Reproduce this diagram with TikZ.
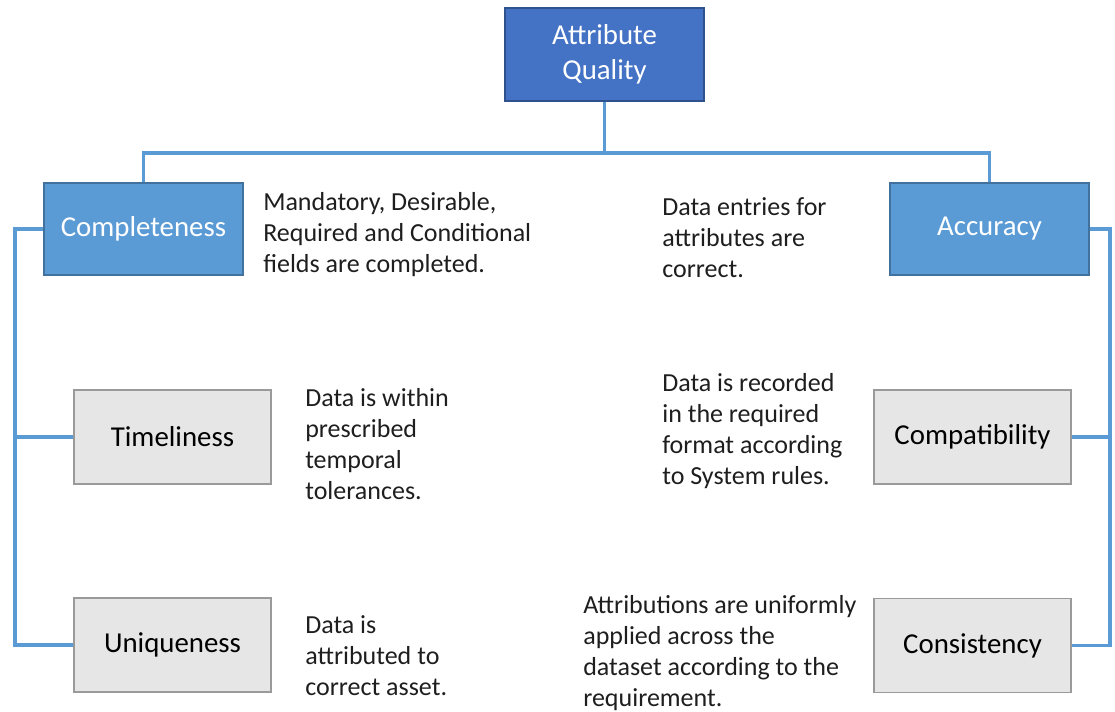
\documentclass[tikz,border=0pt]{standalone}
\usepackage{fontspec}
\setmainfont{Carlito}
\usepackage{xcolor}
\usetikzlibrary{positioning}
\definecolor{topblue}{HTML}{4472C4}
\definecolor{topedge}{HTML}{2F528F}
\definecolor{midblue}{HTML}{5B9BD5}
\definecolor{midedge}{HTML}{41719C}
\definecolor{boxgray}{HTML}{E7E6E6}
\definecolor{grayedge}{HTML}{9A9A9A}
\definecolor{inkgray}{HTML}{1E1E1E}

\begin{document}
\begin{tikzpicture}[x=0.025cm, y=-0.025cm,
    rootbox/.style={draw=topedge, line width=0.9pt, rectangle, fill=topblue, text=white,
        minimum width=4.975cm, minimum height=2.325cm, align=center, inner sep=0pt,
        font=\fontsize{20.5}{25}\selectfont},
    dimbox/.style={draw=midedge, line width=0.9pt, rectangle, fill=midblue, text=white,
        minimum width=4.975cm, minimum height=2.3cm, inner sep=0pt,
        font=\fontsize{20.5}{25}\selectfont},
    subbox/.style={draw=grayedge, line width=0.9pt, rectangle, fill=boxgray, text=black,
        minimum width=4.925cm, minimum height=2.35cm, inner sep=0pt,
        font=\fontsize{20.5}{25}\selectfont},
    note/.style={anchor=base west, align=left, inner sep=0pt, text=inkgray,
        font=\fontsize{18.5}{22}\selectfont},
    link/.style={draw=midblue, line width=2.2pt}]
    \useasboundingbox (0,0) rectangle (1115,711);

    % boxes
    \node[rootbox] (quality) at (604.5,54.5) {Attribute\\Quality};
    \node[dimbox] (complete) at (143.5,229) {Completeness};
    \node[dimbox] (accuracy) at (989.5,229) {Accuracy};
    \node[subbox] (timely) at (172.5,437) {Timeliness};
    \node[subbox] (unique) at (172.5,645) {Uniqueness};
    \node[subbox] (compat) at (972.5,437) {Compatibility};
    \node[subbox] (consist) at (972.5,645.5) {Consistency};

    % descriptions (placed at the baseline of their last line)
    \node[note] (completetext) at (263,272) {Mandatory, Desirable,\\Required and Conditional\\fields are completed.};
    \node[note] (accuracytext) at (662,277) {Data entries for\\attributes are\\correct.};
    \node[note] (timelytext) at (305,499) {Data is within\\prescribed\\temporal\\tolerances.};
    \node[note] (compattext) at (662,484) {Data is recorded\\in the required\\format according\\to System rules.};
    \node[note] (uniquetext) at (305,695) {Data is\\attributed to\\correct asset.};
    \node[note] (consisttext) at (583,706) {Attributions are uniformly\\applied across the\\dataset according to the\\requirement.};

    % connectors
    \coordinate (split) at (604.5,153);
    \coordinate (leftbus) at (15,229);
    \coordinate (rightbus) at (1110,229);
    \draw[link] (quality.south) -- (split);
    \draw[link] (split) -| (complete.north);
    \draw[link] (split) -| (accuracy.north);
    \draw[link] (complete.west) -- (leftbus) |- (timely.west);
    \draw[link] (leftbus) |- (unique.west);
    \draw[link] (accuracy.east) -- (rightbus) |- (compat.east);
    \draw[link] (rightbus) |- (consist.east);
\end{tikzpicture}
\end{document}
